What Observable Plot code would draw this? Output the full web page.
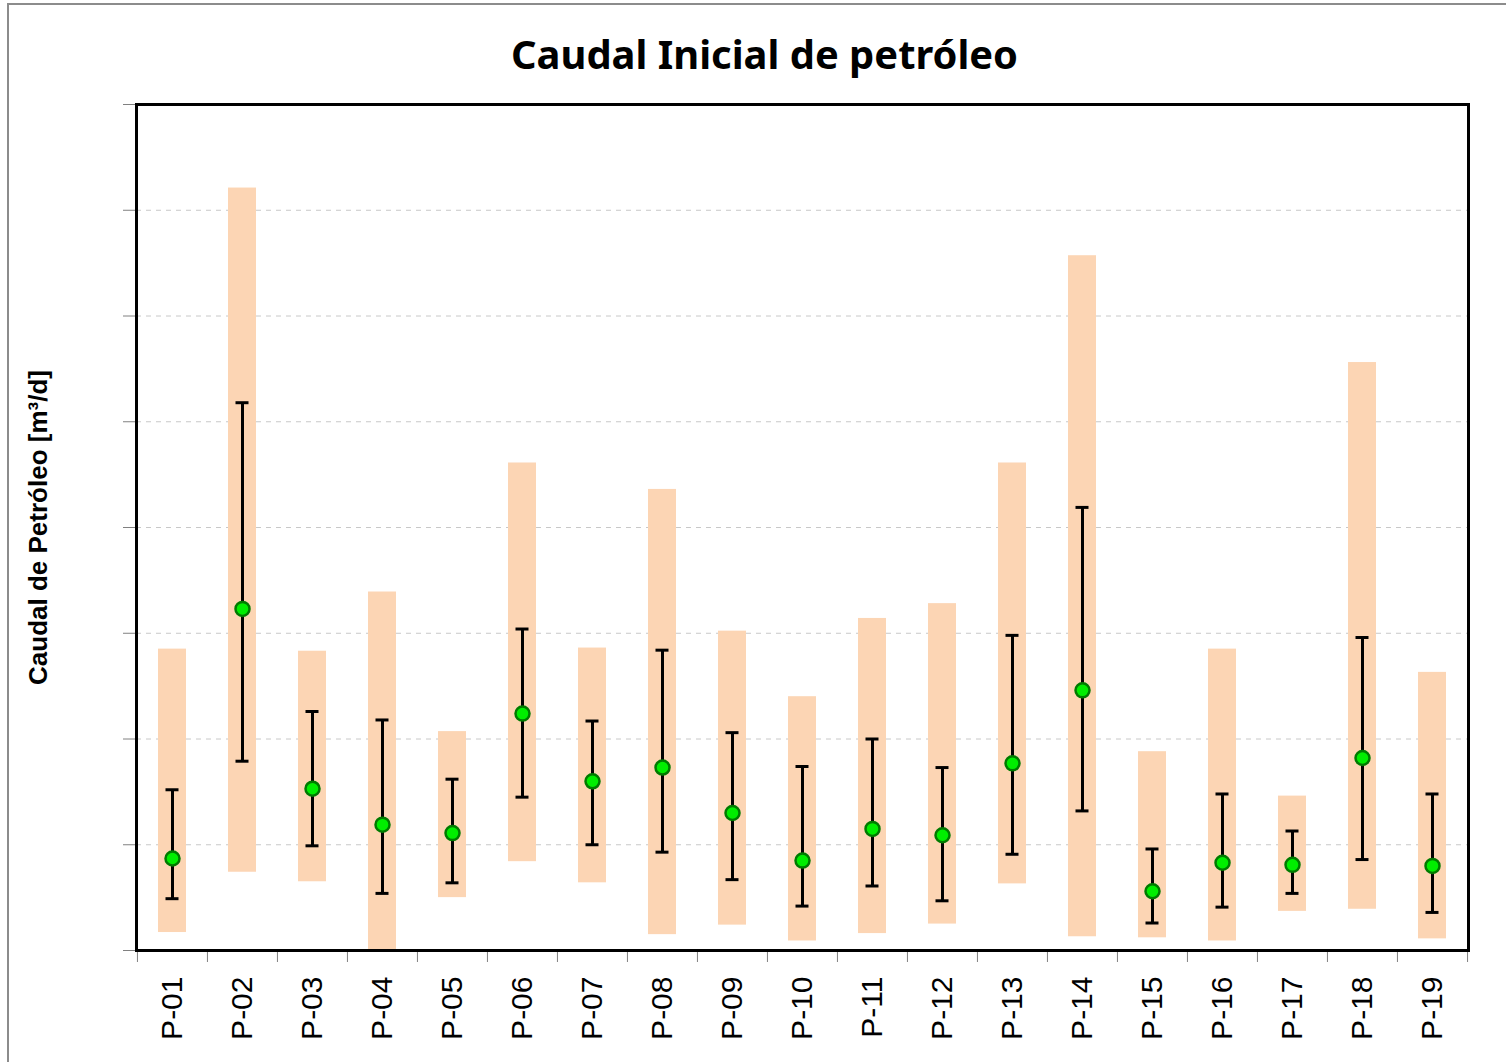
<!DOCTYPE html>
<html>
<head>
<meta charset="utf-8">
<script src="https://cdn.jsdelivr.net/npm/d3@7"></script>
<script src="https://cdn.jsdelivr.net/npm/@observablehq/plot@0.6"></script>
<style>
  html, body { margin: 0; padding: 0; background: #fff; }
  #wrap { position: relative; width: 1506px; height: 1062px; overflow: hidden; }
  #border { position: absolute; left: 7px; top: 3px; width: 1600px; height: 1200px; border: 2px solid #8c8c8c; box-sizing: border-box; }
  #chart { position: absolute; left: 0; top: 0; }
</style>
</head>
<body>
<div id="wrap"><div id="border"></div><div id="chart"></div></div>
<script>
const categories = ["P-01","P-02","P-03","P-04","P-05","P-06","P-07","P-08","P-09","P-10","P-11","P-12","P-13","P-14","P-15","P-16","P-17","P-18","P-19"];
const rangeMax = [28.5, 72.1, 28.3, 33.9, 20.7, 46.1, 28.6, 43.6, 30.2, 24.0, 31.4, 32.8, 46.1, 65.7, 18.8, 28.5, 14.6, 55.6, 26.3];
const rangeMin = [1.7, 7.4, 6.5, 0.0, 5.0, 8.4, 6.4, 1.5, 2.4, 0.9, 1.6, 2.5, 6.3, 1.3, 1.2, 0.9, 3.7, 3.9, 1.1];
const errHigh  = [15.2, 51.8, 22.6, 21.8, 16.2, 30.4, 21.7, 28.4, 20.6, 17.4, 20.0, 17.3, 29.8, 41.9, 9.6, 14.8, 11.3, 29.6, 14.8];
const errLow   = [4.9, 17.9, 9.9, 5.4, 6.4, 14.5, 10.0, 9.3, 6.7, 4.2, 6.1, 4.7, 9.1, 13.2, 2.6, 4.1, 5.4, 8.6, 3.6];
const meanVal  = [8.7, 32.3, 15.3, 11.9, 11.1, 22.4, 16.0, 17.3, 13.0, 8.5, 11.5, 10.9, 17.7, 24.6, 5.6, 8.3, 8.1, 18.2, 8.0];
const yTicks = [0, 10, 20, 30, 40, 50, 60, 70, 80];
const titleText = "Caudal Inicial de petróleo";
const yLabel = "Caudal de Petróleo [m³/d]";

const data = categories.map((c, i) => ({
  pozo: c, max: rangeMax[i], min: rangeMin[i], hi: errHigh[i], lo: errLow[i], mean: meanVal[i]
}));

const bandHalf = (1506 - 136 - 38) / categories.length / 2;

const chart = Plot.plot({
  width: 1506,
  height: 1062,
  marginTop: 104,
  marginLeft: 136,
  marginRight: 38,
  marginBottom: 112,
  style: { background: "transparent", fontFamily: "Liberation Sans, Arial, sans-serif" },
  x: { domain: categories, padding: 0, label: null },
  y: { domain: [0, 80], label: null },
  marks: [
    Plot.gridY(yTicks.slice(1, -1), { stroke: "#c8c8c8", strokeOpacity: 1, strokeDasharray: "5,5" }),
    Plot.barY(data, { x: "pozo", y1: "min", y2: "max", fill: "#FCD5B4", insetLeft: 21, insetRight: 21 }),
    Plot.ruleX(data, { x: "pozo", y1: "lo", y2: "hi", stroke: "black", strokeWidth: 3 }),
    Plot.tickY(data, { x: "pozo", y: "hi", stroke: "black", strokeWidth: 3, insetLeft: 28.5, insetRight: 28.5 }),
    Plot.tickY(data, { x: "pozo", y: "lo", stroke: "black", strokeWidth: 3, insetLeft: 28.5, insetRight: 28.5 }),
    Plot.dot(data, { x: "pozo", y: "mean", r: 7, fill: "#00ee00", stroke: "#007a00", strokeWidth: 2.5 }),
    Plot.axisY({ ticks: yTicks, tickSize: 13, tickFormat: () => "", stroke: "#808080", label: null }),
    Plot.axisX({ tickSize: 0, tickPadding: 26, tickRotate: -90, fontSize: 30, fill: "black", label: null }),
    Plot.axisX({ tickSize: 12, tickFormat: () => "", dx: -bandHalf, stroke: "#808080", label: null }),
    Plot.axisX({ ticks: [categories[categories.length - 1]], tickSize: 12, tickFormat: () => "", dx: bandHalf, stroke: "#808080", label: null }),
    Plot.frame({ stroke: "black", strokeWidth: 3 }),
    Plot.text([titleText], { frameAnchor: "top", dx: -38, dy: -64, fontSize: 40, fontWeight: "bold", fontFamily: "Noto Sans, sans-serif", fill: "black", className: "title-text" }),
    Plot.text([yLabel], { frameAnchor: "left", textAnchor: "middle", dx: -98, rotate: -90, fontSize: 26, fontWeight: "bold", fill: "black" })
  ]
});

document.getElementById("chart").appendChild(chart);
const t = chart.querySelector(".title-text text");
if (t) { t.setAttribute("textLength", "507"); t.setAttribute("lengthAdjust", "spacingAndGlyphs"); }
</script>
</body>
</html>
